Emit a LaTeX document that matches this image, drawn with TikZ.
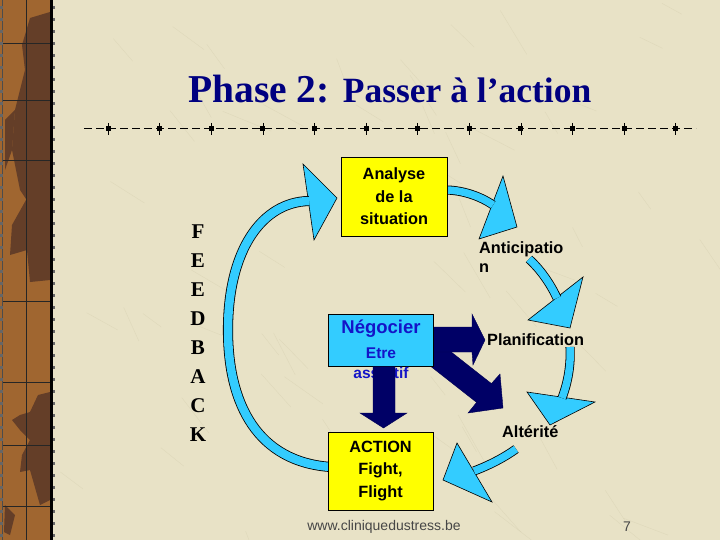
\documentclass[tikz,border=0pt]{standalone}
\usepackage{fontspec}
\setmainfont{Liberation Serif}
\newfontfamily\arial{Liberation Sans}
\definecolor{bg}{RGB}{232,226,198}
\definecolor{scratch}{RGB}{205,198,165}
\definecolor{navytitle}{RGB}{0,0,128}
\definecolor{cyanfill}{RGB}{51,204,255}
\definecolor{yellowfill}{RGB}{255,255,0}
\definecolor{arrownavy}{RGB}{0,0,102}
\definecolor{textblue}{RGB}{20,20,200}
\definecolor{footgray}{RGB}{70,70,70}
\definecolor{stripL}{RGB}{160,102,48}
\definecolor{stripD}{RGB}{100,62,40}
\begin{document}
\begin{tikzpicture}[x=1pt,y=-1pt,
  band/.style={draw=black, line width=0.8pt, double=cyanfill, double distance=7.5pt, line cap=butt},
  headtri/.style={fill=cyanfill, draw=black, line width=0.6pt, line join=miter},
  navyarrow/.style={fill=arrownavy, draw=arrownavy!80!black, line width=0.4pt},
  ybox/.style={draw=black, line width=0.8pt, fill=yellowfill, inner sep=0pt, align=center,
     font=\arial\bfseries\fontsize{16.3}{22.5}\selectfont},
  cbox/.style={draw=black, line width=0.8pt, fill=cyanfill, inner sep=0pt},
  lbl/.style={inner sep=0pt, font=\arial\bfseries\fontsize{16.3}{19}\selectfont},
  fb/.style={inner sep=0pt, font=\bfseries\fontsize{21}{21}\selectfont}]
\useasboundingbox (0,0) rectangle (720,540);
\fill[bg] (0,0) rectangle (720,540);
% faint texture scratches
\pgfmathsetseed{11}
\foreach \n in {1,...,60} {
  \pgfmathsetmacro{\sx}{60+660*rnd}
  \pgfmathsetmacro{\sy}{540*rnd}
  \pgfmathsetmacro{\sa}{20+50*rnd}
  \pgfmathsetmacro{\sl}{20+40*rnd}
  \draw[scratch, line width=0.4pt, opacity=0.35] (\sx,\sy) -- ++(\sa:\sl);
}
% left decorative strip
\fill[stripL] (0,0) rectangle (52,540);
\fill[stripD] (30,18) -- (50,12) -- (50,200) -- (30,205) -- (20,190) -- (12,150) -- (15,110) -- (25,70) -- (22,45) -- cycle;
\fill[stripD] (5,120) -- (15,110) -- (12,150) -- (5,170) -- cycle;
\fill[stripD] (26,200) -- (50,198) -- (50,280) -- (30,282) -- (27,250) -- (10,255) -- (12,225) -- cycle;
\fill[stripD] (38,395) -- (50,392) -- (50,500) -- (40,505) -- (30,470) -- (20,472) -- (22,455) -- (30,440) -- (20,430) -- (12,420) -- (20,415) -- (30,412) -- cycle;
\fill[stripD] (5,505) -- (15,515) -- (10,535) -- (4,532) -- cycle;
\draw[black!85, line width=0.7pt] (26,0) -- (26,540);
\foreach \yy in {43,100,160,301,382,445,506} \draw[black!85, line width=0.7pt] (2,\yy) -- (51,\yy);
\draw[black!70, line width=0.7pt] (2,0) -- (2,540);
\fill[black] (50,0) rectangle (53,540);
\foreach \yy in {6,18,...,540} { \fill[black!60] (0,\yy) rectangle (2.5,\yy+3); \fill[black!60] (53,\yy) rectangle (55,\yy+3); }
% title
\node[anchor=base west, inner sep=0pt, text=navytitle, font=\bfseries] (title) at (188,103)
  {\fontsize{39.5}{40}\selectfont Phase 2: \fontsize{35.5}{40}\selectfont Passer à l’action};
% dashed rule
\draw[black, line width=1pt, dash pattern=on 8pt off 4pt] (84,129) -- (696,129);
\foreach \i in {0,...,11} {
  \fill[black] (108+51.6*\i-2.5,126.5) rectangle ++(5,5);
  \draw[black, line width=0.5pt] (108+51.6*\i,123) -- (108+51.6*\i,135);
}
% FEEDBACK
\foreach \L [count=\k from 0] in {F,E,E,D,B,A,C,K}
  \node[fb] (fb\k) at (198,232+29*\k) {\L};
% coordinates for cyan cycle arrows
\coordinate (la0) at (331,467);
\coordinate (la1) at (309,201);
\coordinate (ra0) at (445,190);
\coordinate (ra1) at (493,205);
\coordinate (rb0) at (529,259);
\coordinate (rb1) at (557,298);
\coordinate (rc0) at (570,347);
\coordinate (rc1) at (562,398);
\coordinate (rd0) at (516,449);
\coordinate (rd1) at (474,471);
% heads
\path[headtri] (303,164) -- (337,198) -- (314,240) -- cycle;
\path[headtri] (503,176) -- (517,227) -- (479,239) -- cycle;
\path[headtri] (583,277) -- (570,328) -- (528,320) -- cycle;
\path[headtri] (527,392) -- (595,402) -- (550,425) -- cycle;
\path[headtri] (457,443) -- (443,480) -- (492,502) -- cycle;
% bands
\draw[band, double distance=8.5pt] (la0) .. controls (258,462) and (228,405) .. (228,330) .. controls (228,250) and (262,202) .. (la1);
\draw[band] (ra0) .. controls (462,190) and (480,196) .. (ra1);
\draw[band] (rb0) .. controls (540,269) and (550,283) .. (rb1);
\draw[band] (rc0) .. controls (571,365) and (568,382) .. (rc1);
\draw[band] (rd0) .. controls (505,457) and (490,465) .. (rd1);
% navy arrows from Negocier
\path[navyarrow] (428.4,334.1) -- (491.4,383.6) -- (500,374) -- (503,408) -- (468,413) -- (476.6,402.4) -- (413.6,352.9) -- cycle;
\path[navyarrow] (425,327) -- (472,327) -- (472,314) -- (485,340) -- (473,365) -- (472,352) -- (425,352) -- cycle;
% boxes
\node[ybox, minimum width=106pt, minimum height=79pt] (analyse) at (394,196.5) {Analyse\\de la\\situation};
\node[ybox, minimum width=105pt, minimum height=78pt] (action) at (380.5,471) {ACTION\\Fight,\\Flight};
\node[cbox, minimum width=105pt, minimum height=52pt] (nego) at (380.5,340) {};
\node[inner sep=0pt, text=textblue, font=\arial\bfseries\fontsize{18.5}{18}\selectfont] (negotxt) at (381,329) {Négocier};
\node[inner sep=0pt, text=textblue, font=\arial\bfseries\fontsize{15.5}{15}\selectfont] (etre) at (381,353) {Etre};
\node[inner sep=0pt, text=textblue, font=\arial\bfseries\fontsize{15.5}{15}\selectfont] (assertif) at (381,373) {assertif};
% down arrow
\path[navyarrow] (373,366.5) -- (373,413) -- (360,413) -- (383.5,428) -- (407,413) -- (395,413) -- (395,366.5) -- cycle;
% labels
\node[lbl, anchor=west] (antic) at (479,249) {Anticipatio};
\node[lbl, anchor=west] (antic2) at (479,268) {n};
\node[lbl, anchor=west] (planif) at (487,340) {Planification};
\node[lbl, anchor=west] (alter) at (502,432) {Altérité};
% footer
\node[inner sep=0pt, text=footgray, font=\arial\fontsize{14}{14}\selectfont] (foot) at (384,527) {www.cliniquedustress.be};
\node[inner sep=0pt, text=footgray, font=\arial\fontsize{14}{14}\selectfont] (pnum) at (627,527) {7};
\end{tikzpicture}
\end{document}
